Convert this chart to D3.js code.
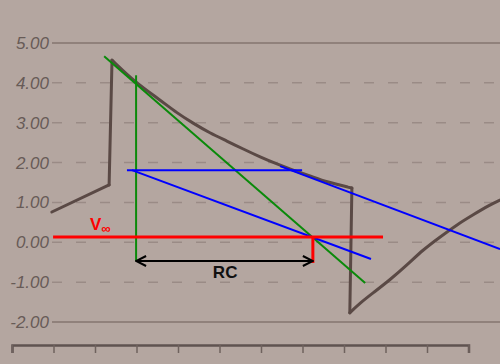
<!DOCTYPE html>
<html>
<head>
<meta charset="utf-8">
<script src="https://cdn.jsdelivr.net/npm/d3@7"></script>
<style>
  body { margin: 0; background: #b4a6a0; }
  svg { display: block; }
</style>
</head>
<body>
<svg id="chart" width="500" height="364"></svg>
<script>
// y tick values and their labels
var yTicks = [5, 4, 3, 2, 1, 0, -1, -2];
var yLabels = ["5.00", "4.00", "3.00", "2.00", "1.00", "0.00", "-1.00", "-2.00"];
// x tick positions (time units)
var xTicks = [0, 1, 2, 3, 4, 5, 6, 7, 8, 9, 10, 11];

// measured trace, time / volts
var traceT = [0.96, 2.34, 2.41, 2.96, 3.57, 3.98, 4.36, 4.77, 5.18, 5.57, 5.98, 6.39, 6.77, 7.18, 7.59, 8.19,
              8.14, 8.39, 8.70, 9.11, 9.52, 9.90, 10.31, 10.72, 11.11, 11.52, 11.76];
var traceV = [0.76, 1.44, 4.57, 4.02, 3.57, 3.24, 2.99, 2.74, 2.54, 2.34, 2.14, 1.96, 1.81, 1.67, 1.51, 1.36,
              -1.77, -1.52, -1.27, -0.94, -0.57, -0.19, 0.13, 0.44, 0.69, 0.94, 1.06];
// index ranges of the smooth pieces (jumps in between are straight)
var pieces = [[0, 1], [2, 15], [16, 26]];

// annotation segments: [t1, v1, t2, v2]
var greenLines = [[2.22, 4.67, 8.51, -1.02], [2.99, 4.19, 2.99, -0.47]];
var blueLines = [[2.77, 1.81, 6.99, 1.81], [2.89, 1.81, 8.65, -0.42], [6.46, 1.91, 11.76, -0.17]];
var redLines = [[0.99, 0.13, 8.94, 0.13], [7.25, 0.13, 7.25, -0.52]];
var arrowLine = [2.99, -0.47, 7.25, -0.47];

var svg = d3.select("#chart");

var x = d3.scaleLinear().domain([0, 11]).range([12, 468.5]);
var y = d3.scaleLinear().domain([-2, 5]).range([322, 43]);

// gridlines
svg.append("g").selectAll("line")
  .data(yTicks)
  .enter().append("line")
  .attr("x1", 52).attr("x2", 500)
  .attr("y1", function(d){ return y(d); })
  .attr("y2", function(d){ return y(d); })
  .attr("stroke", function(d){ return (d == 5 || d == -2) ? "#84746f" : "#9a8b86"; })
  .attr("stroke-width", 1.5)
  .attr("stroke-dasharray", function(d){ return (d == 5 || d == -2) ? null : "10,14"; });

// y labels
svg.append("g").selectAll("text")
  .data(yTicks)
  .enter().append("text")
  .attr("x", 49)
  .attr("y", function(d){ return y(d) + 6; })
  .attr("text-anchor", "end")
  .attr("font-family", "Liberation Sans, Arial, sans-serif")
  .attr("font-style", "italic")
  .attr("font-size", 17)
  .attr("fill", "#5a4e4b")
  .attr("opacity", 0.85)
  .text(function(d, i){ return yLabels[i]; });

// bottom axis
var xAxis = d3.axisBottom(x).tickValues(xTicks).tickSize(8).tickFormat("");
var ax = svg.append("g").attr("transform", "translate(0,345)").call(xAxis);
ax.select(".domain").attr("stroke", "#5f5350").attr("stroke-width", 2.5);
ax.selectAll(".tick line").attr("stroke", "#6f625e").attr("stroke-width", 1.5);

// trace
var trace = traceT.map(function(t, i){ return [t, traceV[i]]; });
var smooth = d3.line()
  .x(function(d){ return x(d[0]); })
  .y(function(d){ return y(d[1]); })
  .curve(d3.curveBasis);
var straight = d3.line()
  .x(function(d){ return x(d[0]); })
  .y(function(d){ return y(d[1]); });

var tr = svg.append("g")
  .attr("fill", "none")
  .attr("stroke", "#5a4945")
  .attr("stroke-width", 3)
  .attr("stroke-linecap", "round")
  .attr("stroke-linejoin", "round");
pieces.forEach(function(p, k){
  tr.append("path").attr("d", smooth(trace.slice(p[0], p[1] + 1)));
  if (k < pieces.length - 1) {
    tr.append("path").attr("d", straight([trace[p[1]], trace[pieces[k + 1][0]]]));
  }
});

function segs(data, color, w){
  svg.append("g").selectAll("line")
    .data(data)
    .enter().append("line")
    .attr("x1", function(d){ return x(d[0]); })
    .attr("y1", function(d){ return y(d[1]); })
    .attr("x2", function(d){ return x(d[2]); })
    .attr("y2", function(d){ return y(d[3]); })
    .attr("stroke", color)
    .attr("stroke-width", w);
}
segs(greenLines, "#0a8a0a", 2);
segs(blueLines, "#0000ff", 2);
segs(redLines, "#ff0000", 3);

// RC arrow
svg.append("defs").append("marker")
  .attr("id", "head")
  .attr("viewBox", "0 0 12 12")
  .attr("refX", 11).attr("refY", 6)
  .attr("markerWidth", 12).attr("markerHeight", 12)
  .attr("markerUnits", "userSpaceOnUse")
  .attr("orient", "auto-start-reverse")
  .append("path")
  .attr("d", "M1,1 L11,6 L1,11")
  .attr("fill", "none")
  .attr("stroke", "#000")
  .attr("stroke-width", 2);

svg.append("line")
  .attr("x1", x(arrowLine[0])).attr("y1", y(arrowLine[1]))
  .attr("x2", x(arrowLine[2])).attr("y2", y(arrowLine[3]))
  .attr("stroke", "#000")
  .attr("stroke-width", 2)
  .attr("marker-start", "url(#head)")
  .attr("marker-end", "url(#head)");

svg.append("text")
  .attr("x", x(4.84)).attr("y", y(-0.9))
  .attr("font-family", "Liberation Sans, Arial, sans-serif")
  .attr("font-weight", "bold")
  .attr("font-size", 17)
  .attr("fill", "#111")
  .text("RC");

var vinf = svg.append("text")
  .attr("x", x(1.88)).attr("y", y(0.30))
  .attr("font-family", "Liberation Sans, Arial, sans-serif")
  .attr("font-weight", "bold")
  .attr("font-size", 17)
  .attr("fill", "#ff0000");
vinf.append("tspan").text("V");
vinf.append("tspan").attr("dy", 3).attr("font-size", 13).text("∞");
</script>
</body>
</html>
